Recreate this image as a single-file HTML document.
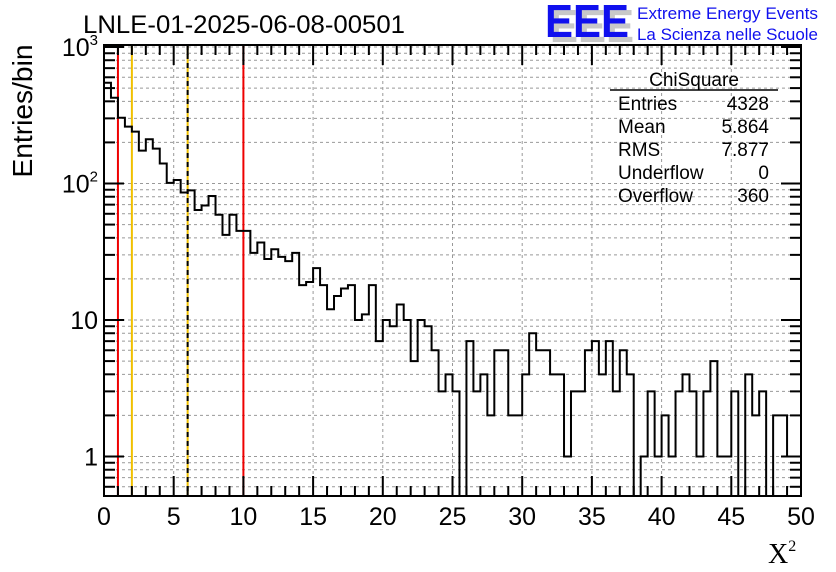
<!DOCTYPE html>
<html><head><meta charset="utf-8"><style>
html,body{margin:0;padding:0;background:#fff;}
svg{display:block;font-family:"Liberation Sans",sans-serif;}
</style></head><body>
<svg id="chart" width="836" height="572" viewBox="0 0 836 572">
  <rect width="836" height="572" fill="#fff"/>
  <g id="grid"></g>
  <g id="cuts"></g>
  <path id="hist" fill="none" stroke="#000" stroke-width="2"/>
  <g id="axes"></g>
  <text x="83" y="33" font-size="25" textLength="322" lengthAdjust="spacingAndGlyphs">LNLE-01-2025-06-08-00501</text>
  <text transform="translate(32,111) rotate(-90)" text-anchor="middle" font-size="28" textLength="133" lengthAdjust="spacingAndGlyphs">Entries/bin</text>
  <text x="768" y="563" font-size="28" font-family="Liberation Serif,serif">X<tspan font-size="16" dy="-12">2</tspan></text>
  <g>
    <text x="550" y="42" font-size="46" font-weight="bold" fill="#c8c8c8" textLength="84" lengthAdjust="spacingAndGlyphs">EEE</text>
    <text x="545" y="37" font-size="46" font-weight="bold" fill="#1010ee" textLength="84" lengthAdjust="spacingAndGlyphs">EEE</text>
    <text x="637" y="19" font-size="17" fill="#1010ee" textLength="181" lengthAdjust="spacingAndGlyphs">Extreme Energy Events</text>
    <text x="637" y="40" font-size="17" fill="#1010ee" textLength="181" lengthAdjust="spacingAndGlyphs">La Scienza nelle Scuole</text>
  </g>
  <g font-size="19">
    <text x="694" y="86" text-anchor="middle">ChiSquare</text>
    <line x1="610" y1="90" x2="778" y2="90" stroke="#000" stroke-width="1.5"/>
    <text x="618" y="110">Entries</text><text x="769" y="110" text-anchor="end">4328</text>
    <text x="618" y="133">Mean</text><text x="769" y="133" text-anchor="end">5.864</text>
    <text x="618" y="156">RMS</text><text x="769" y="156" text-anchor="end">7.877</text>
    <text x="618" y="179">Underflow</text><text x="769" y="179" text-anchor="end">0</text>
    <text x="618" y="202">Overflow</text><text x="769" y="202" text-anchor="end">360</text>
  </g>
</svg>
<script>
const binWidth = 0.5;
const counts = [547,425,303,261,240,174,211,180,140,101,106,86,89,64,69,81,59,42,59,45,
45,31,37,28,33,29,27,31,18,19,24,18,12,15,17,18,10,11,18,7,
10,9,13,10,5,10,9,6,3,4,3,0,7,3,4,2,6,6,2,2,
4,8,6,6,4,4,1,3,3,6,7,4,7,3,6,4,0,1,3,1,
2,1,3,4,3,1,3,5,1,1,3,0,4,2,3,0,2,2,1,1];
const xTicks = [0,5,10,15,20,25,30,35,40,45,50];
const yDecades = [1,10,100,1000];
const cutsRed = [1,10];
const cutsOrange = [2,6];
const cutDashed = [6];

const X0=104,X1=801,Y0=496,Y1=45,XMIN=0,XMAX=50;
const YTOP=Math.log10(1000)+ (47-45)/136.5, YBOT=Math.log10(1000)-(496-47)/136.5;
const sx=v=>X0+(v-XMIN)/(XMAX-XMIN)*(X1-X0);
const sy=v=>v<=0?Y0:Math.max(Y1,Math.min(Y0, Y0-(Math.log10(v)-YBOT)/(YTOP-YBOT)*(Y0-Y1)));
const NS='http://www.w3.org/2000/svg';
function mk(tag,attrs,parent){const e=document.createElementNS(NS,tag);for(const k in attrs)e.setAttribute(k,attrs[k]);parent.appendChild(e);return e;}
const grid=document.getElementById('grid'),axes=document.getElementById('axes'),cuts=document.getElementById('cuts');

yDecades.forEach(d=>{for(let m=1;m<10;m++){const v=d*m;const y=sy(v);if(y<=Y1+0.5||y>=Y0)continue;
  const l=mk('line',{x1:X0,x2:X1,y1:y,y2:y,stroke:'#999','stroke-dasharray':'3,3','stroke-width':1},grid);
  
  
  const t=mk('line',{x1:X0,x2:X0+(m===1?20:11),y1:y,y2:y,stroke:'#000','stroke-width':2},axes);
  
  
  const t2=mk('line',{x1:X1,x2:X1-(m===1?20:11),y1:y,y2:y,stroke:'#000','stroke-width':2},axes);
  
  
}});
[0.6,0.7,0.8,0.9].forEach(v=>{const y=sy(v);
  const l=mk('line',{x1:X0,x2:X1,y1:y,y2:y,stroke:'#999','stroke-dasharray':'3,3','stroke-width':1},grid);
  
  
  const t=mk('line',{x1:X0,x2:X0+11,y1:y,y2:y,stroke:'#000','stroke-width':2},axes);
  
  
  const t2=mk('line',{x1:X1,x2:X1-11,y1:y,y2:y,stroke:'#000','stroke-width':2},axes);
  
  
});
xTicks.forEach(v=>{const x=sx(v);
  if(v>XMIN&&v<XMAX){const l=mk('line',{x1:x,x2:x,y1:Y1,y2:Y0,stroke:'#999','stroke-dasharray':'3,3','stroke-width':1},grid);
  
  }
  const t=mk('text',{x:x,y:Y0+29,'text-anchor':'middle','font-size':25},axes);t.textContent=v;
  
  
});
for(let v=XMIN;v<=XMAX;v+=1){const x=sx(v);const major=v%5===0;
  const t=mk('line',{x1:x,x2:x,y1:Y0,y2:Y0-(major?20:10),stroke:'#000','stroke-width':2},axes);
  
  
  const t2=mk('line',{x1:x,x2:x,y1:Y1,y2:Y1+(major?20:10),stroke:'#000','stroke-width':2},axes);
  
  
}
yDecades.forEach(d=>{const y=sy(d);const t=mk('text',{x:X0-6,y:y+9,'text-anchor':'end','font-size':25},axes);
  const p=Math.log10(d);
  if(p<=1)t.textContent=d;else{t.textContent='10';const s=mk('tspan',{'font-size':15,dy:-11},t);s.textContent=p;}
  
  
});
cutsRed.forEach(v=>{const l=mk('line',{x1:sx(v),x2:sx(v),y1:Y1,y2:Y0,stroke:'#ee0000','stroke-width':2},cuts);
  
  });
cutsOrange.forEach(v=>{const l=mk('line',{x1:sx(v),x2:sx(v),y1:Y1,y2:Y0,stroke:'#f0c000','stroke-width':2},cuts);
  
  });
cutDashed.forEach(v=>{const l=mk('line',{x1:sx(v),x2:sx(v),y1:Y1,y2:Y0,stroke:'#000','stroke-width':2,'stroke-dasharray':'5,4'},cuts);
  
  });
let d='';
counts.forEach((c,i)=>{const xa=sx(i*binWidth),xb=sx((i+1)*binWidth),y=sy(c);
  d+=(i===0?'M':'L')+xa+','+y+'L'+xb+','+y;});
document.getElementById('hist').setAttribute('d',d);
const f=mk('rect',{x:X0,y:Y1,width:X1-X0,height:Y0-Y1,fill:'none',stroke:'#000','stroke-width':2},axes);


</script>
</body></html>
